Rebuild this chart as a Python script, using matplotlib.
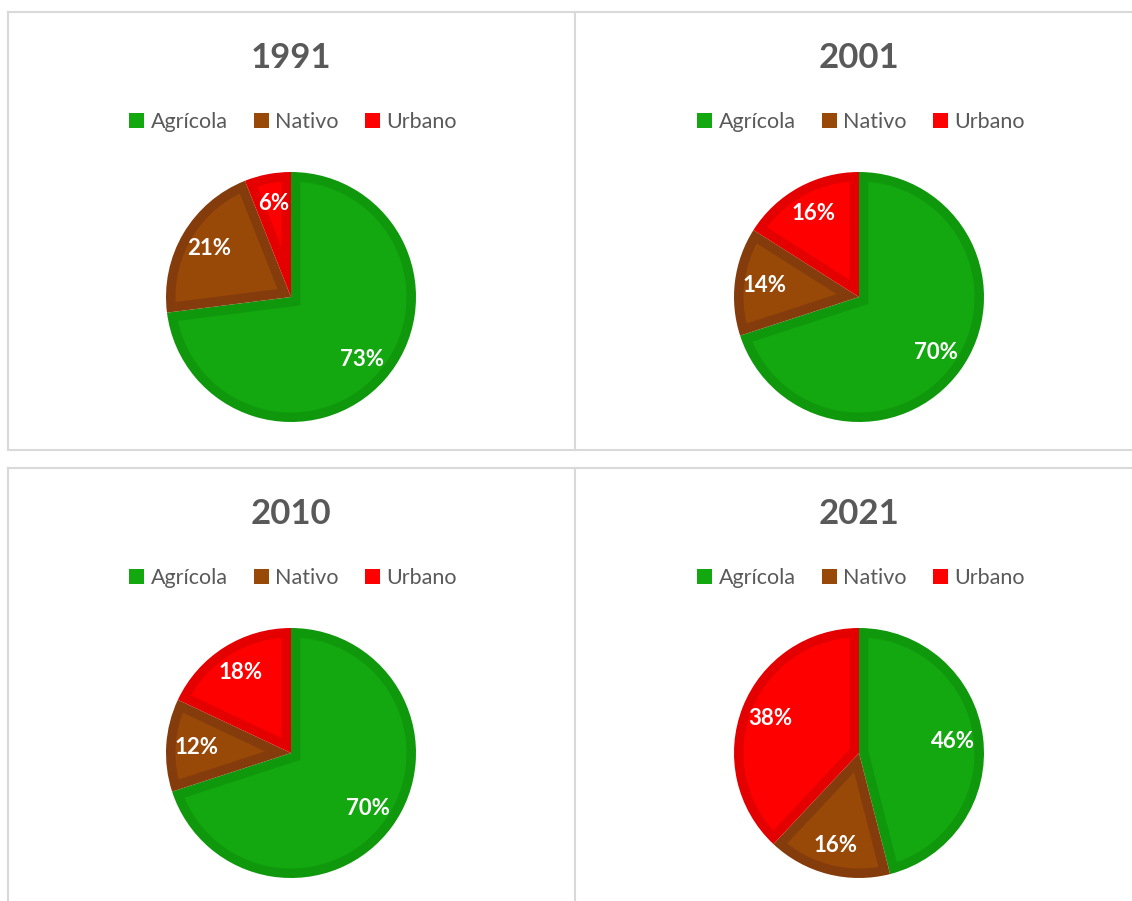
import numpy as np
import matplotlib.pyplot as plt
from matplotlib.lines import Line2D
from matplotlib.patches import Patch, Polygon

years = ["1991", "2001", "2010", "2021"]
categories = ["Agrícola", "Nativo", "Urbano"]
shares = {
    "1991": [73, 21, 6],
    "2001": [70, 14, 16],
    "2010": [70, 12, 18],
    "2021": [46, 16, 38],
}

fill_colors = ["#13A810", "#984807", "#FF0000"]
edge_colors = ["#0F980C", "#843C0C", "#E40000"]
text_grey = "#595959"
border_grey = "#D9D9D9"

W, H = 1132, 901
plt.rcParams['font.family'] = ['Lato', 'DejaVu Sans']

fig = plt.figure(figsize=(W / 100, H / 100), dpi=100)


def fx(px):
    return px / W


def fy(py):
    return 1 - py / H


def inner_wedge(w, d):
    # wedge shrunk inwards by d (mitered corner at the centre)
    t1, t2, r = w.theta1, w.theta2, w.r
    cx, cy = w.center
    a = np.radians(t2 - t1)
    bis = np.radians((t1 + t2) / 2)
    k = d / np.sin(a / 2)
    apex = (cx + k * np.cos(bis), cy + k * np.sin(bis))
    rr = r - d
    delta = np.degrees(np.arcsin(d / rr))
    ang = np.radians(np.linspace(t1 + delta, t2 - delta, 120))
    pts = [apex] + list(zip(cx + rr * np.cos(ang), cy + rr * np.sin(ang)))
    return pts


# panel frames
segments = [
    ((8, 1132), (12, 12)), ((8, 1132), (450, 450)),
    ((8, 8), (12, 450)), ((575, 575), (12, 450)),
    ((8, 1132), (468, 468)),
    ((8, 8), (468, 901)), ((575, 575), (468, 901)),
]
for xs, ys in segments:
    fig.add_artist(Line2D([fx(x) for x in xs], [fy(y) for y in ys],
                          color=border_grey, lw=1.5))

centers = [(291, 297), (859, 297), (291, 753), (859, 753)]
radius = 125
border = 9.5 / radius

for year, (cx, cy) in zip(years, centers):
    ax = fig.add_axes([fx(cx - radius), fy(cy + radius),
                       2 * radius / W, 2 * radius / H])
    wedges, texts, autotexts = ax.pie(
        shares[year], colors=edge_colors, startangle=90, counterclock=False,
        radius=1, autopct='%1.0f%%', pctdistance=0.76,
        wedgeprops=dict(linewidth=0),
        textprops=dict(color='white', fontsize=16, fontweight='bold'),
    )
    for w, fc in zip(wedges, fill_colors):
        ax.add_patch(Polygon(inner_wedge(w, border), closed=True,
                             facecolor=fc, edgecolor='none', zorder=1.5))
    for t in autotexts:
        t.set_zorder(5)
    ax.set_xlim(-1, 1)
    ax.set_ylim(-1, 1)
    ax.axis('off')

    fig.text(fx(cx), fy(cy - 239), year, ha='center', va='center',
             fontsize=25, fontweight='bold', color=text_grey)

    handles = [Patch(facecolor=c, edgecolor='none') for c in fill_colors]
    fig.legend(handles, categories, loc='center',
               bbox_to_anchor=(fx(cx + 2), fy(cy - 175)), ncol=3,
               frameon=False, fontsize=15.5, labelcolor=text_grey,
               handlelength=0.7, handleheight=0.7, handletextpad=0.3,
               columnspacing=1.2)

fig.savefig("out.png", dpi=100)
